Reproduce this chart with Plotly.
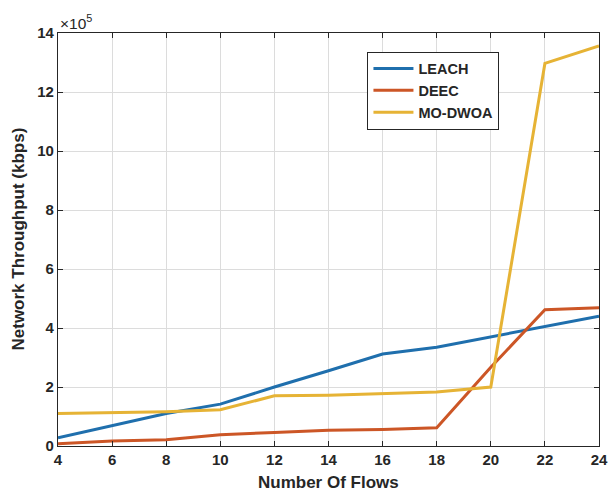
import plotly.graph_objects as go

flows = [4, 6, 8, 10, 12, 14, 16, 18, 20, 22, 24]
leach = [0.28, 0.70, 1.10, 1.42, 2.00, 2.55, 3.12, 3.35, 3.70, 4.03, 4.40]
deec = [0.08, 0.17, 0.21, 0.38, 0.46, 0.53, 0.56, 0.62, 2.67, 4.62, 4.69]
modwoa = [1.10, 1.12, 1.16, 1.23, 1.70, 1.72, 1.77, 1.83, 2.00, 12.97, 13.56]
x_ticks = [4, 6, 8, 10, 12, 14, 16, 18, 20, 22, 24]
y_ticks = [0, 2, 4, 6, 8, 10, 12, 14]

FONT = "Liberation Sans, Arial, sans-serif"
fig = go.Figure()
for name, vals, col in [("LEACH", leach, "#1f6fad"),
                        ("DEEC", deec, "#cc5626"),
                        ("MO-DWOA", modwoa, "#e6b335")]:
    fig.add_trace(go.Scatter(x=flows, y=vals, mode="lines", name=name,
                             line=dict(color=col, width=3)))

axis_common = dict(showline=True, linecolor="#262626", linewidth=1.2, mirror="allticks",
                   ticks="inside", ticklen=5, tickcolor="#262626", automargin=False,
                   showgrid=True, gridcolor="#dcdcdc", gridwidth=1, zeroline=False,
                   ticklabeloverflow="allow",
                   tickfont=dict(family=FONT, size=15, color="#262626"))

fig.update_layout(
    width=610, height=493,
    margin=dict(l=58, r=11, t=33, b=47),
    paper_bgcolor="white", plot_bgcolor="white",
    xaxis=dict(range=[4, 24], tickvals=x_ticks,
               ticktext=[f"<b>{v}</b>" for v in x_ticks], **axis_common),
    yaxis=dict(range=[0, 14], tickvals=y_ticks,
               ticktext=[f"<b>{v}</b>" for v in y_ticks], **axis_common),
    legend=dict(x=0.572, y=0.955, xanchor="left", yanchor="top",
                bgcolor="white", bordercolor="#262626", borderwidth=1,
                font=dict(family=FONT, size=14.5, color="#262626", weight="bold"),
                tracegroupgap=0, itemwidth=40),
    annotations=[
        dict(text="×10<sup>5</sup>", xref="paper", yref="paper",
             x=0.0, y=1.0, xanchor="left", yanchor="bottom", xshift=0, yshift=-1,
             showarrow=False, font=dict(family=FONT, size=15.5, color="#262626")),
        dict(text="<b>Number Of Flows</b>", xref="paper", yref="paper",
             x=0.5, y=0, xanchor="center", yanchor="middle", yshift=-36, showarrow=False,
             font=dict(family=FONT, size=17, color="#262626")),
        dict(text="<b>Network Throughput (kbps)</b>", xref="paper", yref="paper",
             x=0, y=0.5, xanchor="center", yanchor="middle", xshift=-40, textangle=-90,
             showarrow=False, font=dict(family=FONT, size=17, color="#262626")),
    ],
)
fig.write_html("out.html", config={"displayModeBar": False},
               post_script="document.body.style.margin='0';document.body.style.overflow='hidden';")
